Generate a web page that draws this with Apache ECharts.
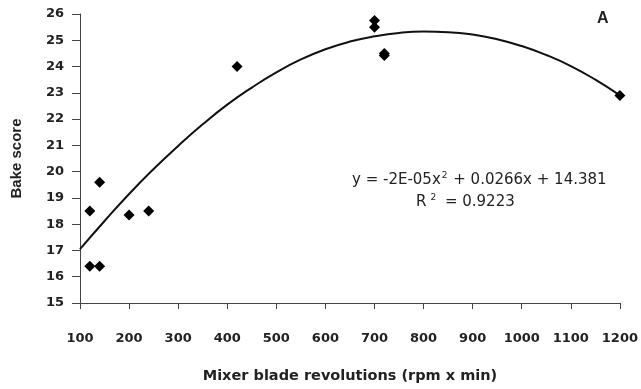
<!DOCTYPE html>
<html>
<head>
<meta charset="utf-8">
<script src="https://cdn.jsdelivr.net/npm/echarts@6/dist/echarts.min.js"></script>
<style>
  html, body { margin: 0; padding: 0; background: #fff; }
  #chart { width: 641px; height: 389px; }
</style>
</head>
<body>
<div id="chart"></div>
<script>
// measured points (mixer blade revolutions, bake score)
const revs = [120, 120, 140, 140, 200, 240, 420, 700, 700, 720, 720, 1200]
const scores = [18.5, 16.4, 16.4, 19.6, 18.35, 18.5, 24.0, 25.75, 25.5, 24.5, 24.42, 22.9]

// trendline
const trendX = [100, 150, 200, 250, 300, 350, 400, 450, 500, 550, 600, 650, 700, 750,
  800, 850, 900, 950, 1000, 1050, 1100, 1150, 1200]
const trendY = [17.05, 18.12, 19.15, 20.1, 20.98, 21.8, 22.55, 23.2, 23.78, 24.27, 24.66, 24.95, 25.15, 25.28,
  25.33, 25.31, 25.22, 25.04, 24.78, 24.44, 24.02, 23.5, 22.9]

const xTicks = [100, 200, 300, 400, 500, 600, 700, 800, 900, 1000, 1100, 1200]
const yTicks = [15, 16, 17, 18, 19, 20, 21, 22, 23, 24, 25, 26]

const chart = echarts.init(document.getElementById('chart'))
const wide = 'DejaVu Sans, sans-serif'
const arial = 'Liberation Sans, Arial, sans-serif'

chart.setOption({
  animation: false,
  grid: { left: 80, right: 20, top: 14, bottom: 82 },
  xAxis: {
    type: 'value',
    min: xTicks[0],
    max: xTicks[xTicks.length - 1],
    interval: 100,
    axisLine: { lineStyle: { color: '#444', width: 1 } },
    axisTick: { length: 6, lineStyle: { color: '#444' } },
    splitLine: { show: false },
    axisLabel: {
      color: '#222', fontSize: 13, fontWeight: 'bold', fontFamily: wide, margin: 29,
      formatter: v => String(v)
    },
    name: 'Mixer blade revolutions (rpm x min)',
    nameLocation: 'middle',
    nameGap: 66,
    nameTextStyle: { color: '#222', fontSize: 14.5, fontWeight: 'bold', fontFamily: wide }
  },
  yAxis: {
    type: 'value',
    min: yTicks[0],
    max: yTicks[yTicks.length - 1],
    interval: 1,
    axisLine: { show: true, lineStyle: { color: '#444', width: 1 } },
    axisTick: { show: true, length: 8, lineStyle: { color: '#444' } },
    splitLine: { show: false },
    axisLabel: { color: '#222', fontSize: 13, fontWeight: 'bold', fontFamily: wide, margin: 16 },
    name: 'Bake score',
    nameLocation: 'middle',
    nameGap: 56,
    nameTextStyle: { color: '#222', fontSize: 15, fontWeight: 'bold', fontFamily: arial }
  },
  series: [
    {
      type: 'line',
      data: trendX.map((x, i) => [x, trendY[i]]),
      smooth: true,
      showSymbol: false,
      lineStyle: { color: '#111', width: 2 },
      z: 2
    },
    {
      type: 'scatter',
      data: revs.map((x, i) => [x, scores[i]]),
      symbol: 'diamond',
      symbolSize: 11,
      itemStyle: { color: '#000', opacity: 1 },
      z: 3
    }
  ],
  graphic: [
    {
      type: 'text', left: 597, top: 11,
      style: { text: 'A', fill: '#222', font: 'bold 16px ' + arial }
    },
    {
      type: 'text', left: 352, top: 171,
      style: {
        text: 'y = -2E-05x{s|2} + 0.0266x + 14.381',
        fill: '#222',
        font: '15px ' + wide,
        rich: { s: { fontSize: 9, fontFamily: wide, padding: [0, 1, 9, 1], fill: '#222' } }
      }
    },
    {
      type: 'text', left: 416, top: 193,
      style: {
        text: 'R{s|2} = 0.9223',
        fill: '#222',
        font: '15px ' + wide,
        rich: { s: { fontSize: 9, fontFamily: wide, padding: [0, 4, 9, 4], fill: '#222' } }
      }
    }
  ]
})
</script>
</body>
</html>
